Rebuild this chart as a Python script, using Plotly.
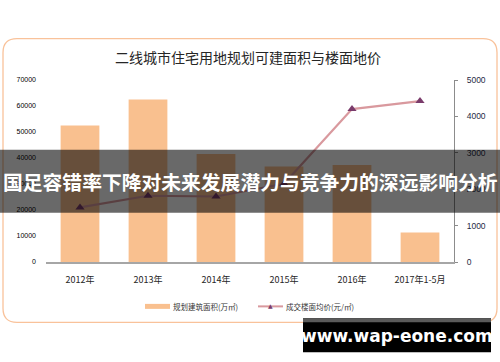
import plotly.graph_objects as go

categories = ["2012年", "2013年", "2014年", "2015年", "2016年", "2017年1-5月"]
area_values = [52500, 62500, 41500, 36750, 37300, 11300]
price_values = [1500, 1820, 1800, 2150, 4200, 4420]
left_ticks = [0, 10000, 20000, 30000, 40000, 50000, 60000, 70000]
right_ticks = [0, 1000, 2000, 3000, 4000, 5000]
title_text = "二线城市住宅用地规划可建面积与楼面地价"
legend_bar = "规划建筑面积(万㎡)"
legend_line = "成交楼面均价(元/㎡)"
banner_text = "国足容错率下降对未来发展潜力与竞争力的深远影响分析"
watermark = "www.wap-eone.com"

FONT = "Noto Sans CJK SC"
W, H = 500, 362
L, R, T, B = 46, 454, 80, 262.5


def px(x):
    return (x - L) / (R - L)


def py(y):
    return (B - y) / (B - T)


fig = go.Figure()
fig.add_trace(go.Bar(x=categories, y=area_values, marker=dict(color="#f9c08f", line=dict(width=0)),
                     name=legend_bar, yaxis="y", showlegend=False))
fig.add_trace(go.Scatter(x=categories, y=price_values, mode="lines+markers", name=legend_line,
                         line=dict(color="#d9999e", width=2.2),
                         marker=dict(symbol="triangle-up", size=8, color="#7a3b6b"),
                         yaxis="y2", showlegend=False))

shapes = []
# rounded card border
x0, x1, y0, y1 = px(3), px(497), py(323), py(38.5)
rx, ry = 14 / (R - L), 14 / (B - T)
path = (f"M {x0+rx},{y1} L {x1-rx},{y1} Q {x1},{y1} {x1},{y1-ry} "
        f"L {x1},{y0+ry} Q {x1},{y0} {x1-rx},{y0} L {x0+rx},{y0} "
        f"Q {x0},{y0} {x0},{y0+ry} L {x0},{y1-ry} Q {x0},{y1} {x0+rx},{y1} Z")
shapes.append(dict(type="path", path=path, xref="paper", yref="paper",
                   line=dict(color="#f9c29a", width=1.3), fillcolor="rgba(0,0,0,0)", layer="below"))
# legend swatches
shapes.append(dict(type="rect", xref="paper", yref="paper", x0=px(145), x1=px(170), y0=py(309.5), y1=py(304.5),
                   fillcolor="#f9c08f", line=dict(width=0)))
shapes.append(dict(type="line", xref="paper", yref="paper", x0=px(258), x1=px(283), y0=py(307), y1=py(307),
                   line=dict(color="#d9999e", width=2)))
# banner
shapes.append(dict(type="rect", xref="paper", yref="paper", x0=px(0), x1=px(500), y0=py(213), y1=py(150),
                   fillcolor="rgba(0,0,0,0.59)", line=dict(width=0), layer="above"))
# watermark box
shapes.append(dict(type="rect", xref="paper", yref="paper", x0=px(303), x1=px(491), y0=py(353), y1=py(319),
                   fillcolor="#000000", line=dict(width=0), layer="above"))
shapes.append(dict(type="rect", xref="paper", yref="paper", x0=px(303), x1=px(491), y0=py(323), y1=py(319),
                   fillcolor="#5a5a5a", line=dict(width=0), layer="above"))

annotations = [
    dict(text=title_text, x=px(248), y=py(57), xref="paper", yref="paper", showarrow=False,
         font=dict(family=FONT, size=14, color="#262626"), xanchor="center", yanchor="middle"),
    dict(text=legend_bar, x=px(171), y=py(307), xref="paper", yref="paper", showarrow=False,
         font=dict(family=FONT, size=7.5, color="#333333"), xanchor="left", yanchor="middle"),
    dict(text=legend_line, x=px(284), y=py(307), xref="paper", yref="paper", showarrow=False,
         font=dict(family=FONT, size=7.5, color="#333333"), xanchor="left", yanchor="middle"),
    dict(text="▲", x=px(270.5), y=py(306.5), xref="paper", yref="paper", showarrow=False,
         font=dict(family="DejaVu Sans", size=6, color="#7a3b6b"), xanchor="center", yanchor="middle"),
    dict(text="<b>" + banner_text + "</b>", x=px(250), y=py(182), xref="paper", yref="paper", showarrow=False,
         font=dict(family=FONT, size=19.8, color="#ffffff"), xanchor="center", yanchor="middle"),
    dict(text="<b>" + watermark + "</b>", x=px(397), y=py(337), xref="paper", yref="paper", showarrow=False,
         font=dict(family="DejaVu Sans", size=17, color="#ffffff"), xanchor="center", yanchor="middle"),
]

fig.update_layout(
    width=W, height=H,
    margin=dict(l=L, r=W - R, t=T, b=H - B),
    paper_bgcolor="#ffffff", plot_bgcolor="rgba(0,0,0,0)",
    bargap=0.43,
    showlegend=False,
    font=dict(family=FONT),
    xaxis=dict(showline=True, linecolor="#a6a6a6", linewidth=1.5, showgrid=False, ticks="",
               tickfont=dict(family=FONT, size=9, color="#262626"), ticklabelstandoff=8,
               range=[-0.5, 5.5]),
    yaxis=dict(range=[0, 70000], tickvals=left_ticks, tickformat="d", showgrid=False, showline=False,
               zeroline=False, ticks="", tickfont=dict(family="Liberation Sans", size=7, color="#000000"),
               ticklabelstandoff=9),
    yaxis2=dict(range=[0, 5000], tickvals=right_ticks, tickformat="d", overlaying="y", side="right",
                showgrid=False, showline=True, linecolor="#8c8c8c", linewidth=1, zeroline=False,
                ticks="outside", ticklen=3, tickcolor="#8c8c8c",
                tickfont=dict(family="Liberation Sans", size=8.5, color="#1f2a44"),
                ticklabelstandoff=7),
    shapes=shapes,
    annotations=annotations,
)

fig.write_html("out.html", config={"displayModeBar": False},
               post_script="document.body.style.margin='0';document.body.style.overflow='hidden';")
